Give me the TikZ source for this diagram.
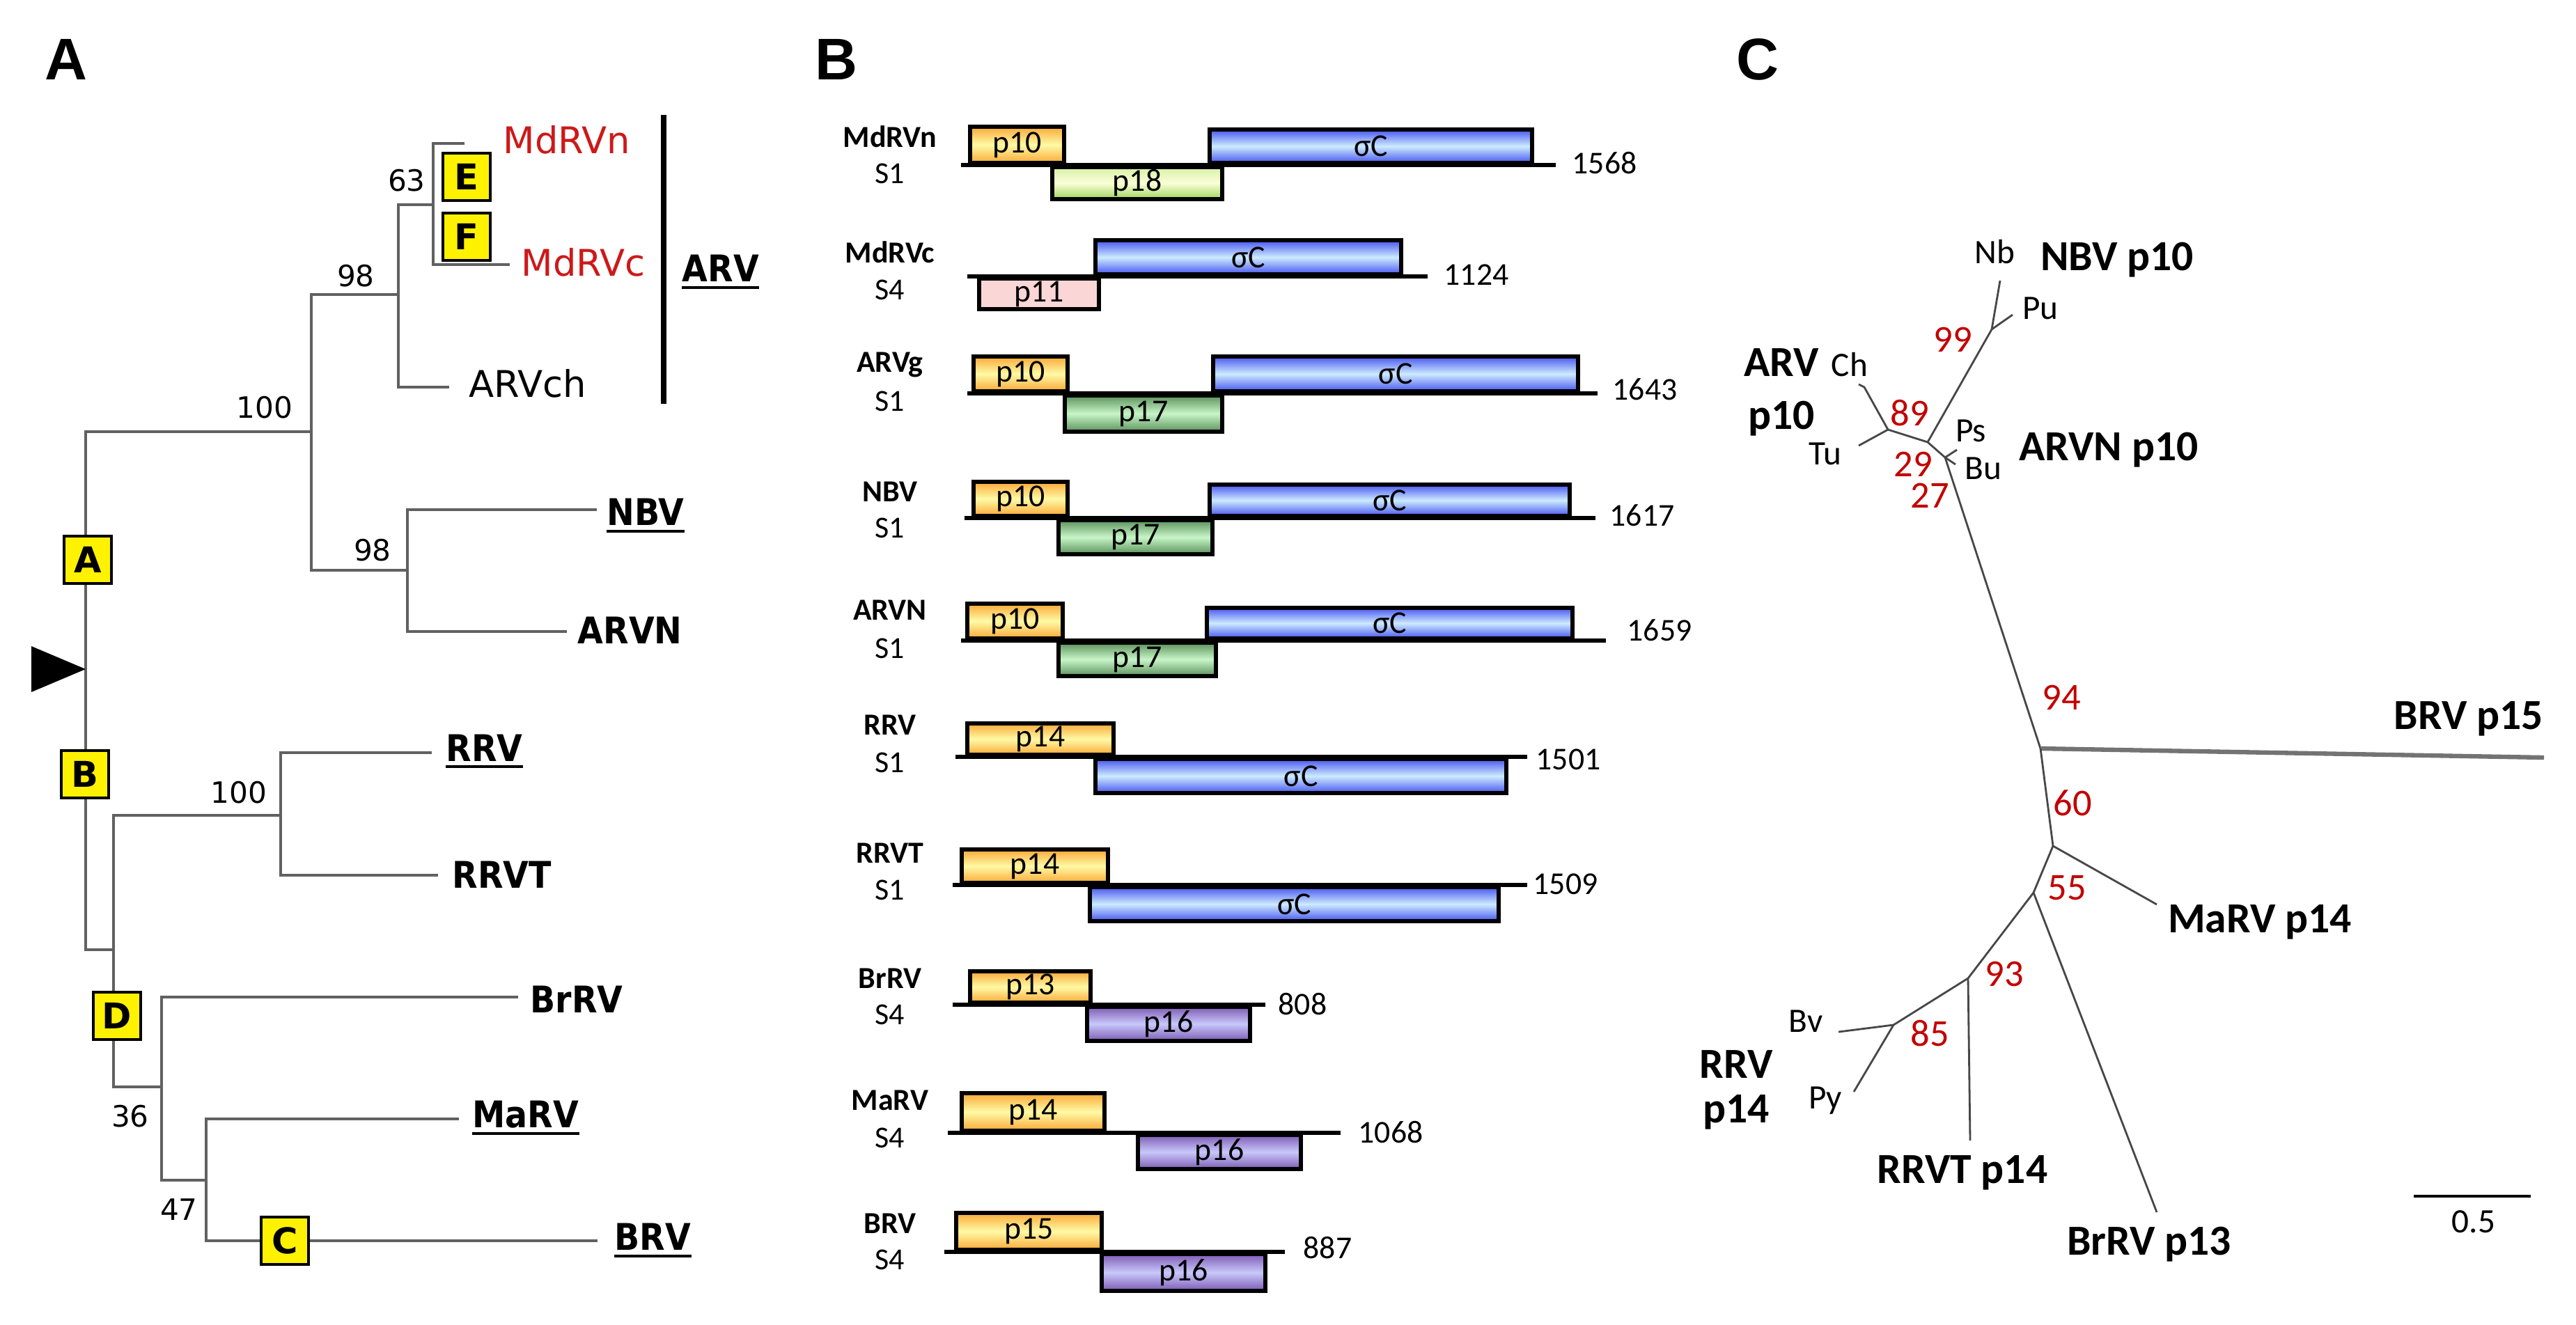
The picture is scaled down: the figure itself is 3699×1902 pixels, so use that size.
\documentclass[tikz,border=0pt]{standalone}
\usepackage{fontspec}
\setmainfont{Carlito}
\newfontfamily\dvs{DejaVu Sans}
\newfontfamily\dvsc{DejaVu Sans}[FakeStretch=0.9]
\newfontfamily\lib{Liberation Sans}
\usetikzlibrary{calc}
\newcommand\fsz[1]{\fontsize{#1}{#1}\selectfont}
\definecolor{redlab}{RGB}{205,25,25}
\definecolor{numred}{RGB}{195,0,0}
\definecolor{orT}{RGB}{250,168,55}\definecolor{orM}{RGB}{255,250,165}
\definecolor{blT}{RGB}{70,85,240}\definecolor{blM}{RGB}{205,235,255}
\definecolor{grT}{RGB}{90,145,90}\definecolor{grM}{RGB}{200,245,200}
\definecolor{ygT}{RGB}{215,240,165}\definecolor{ygM}{RGB}{250,255,215}\definecolor{ygB}{RGB}{160,212,95}
\definecolor{pkF}{RGB}{250,214,214}
\definecolor{puT}{RGB}{125,90,180}\definecolor{puM}{RGB}{200,200,250}
\tikzset{
  tree/.style={draw=black!62, line width=0.9pt},
  leafA/.style={anchor=west, inner sep=0pt, font=\dvs\fsz{15pt}},
  leafAb/.style={anchor=west, inner sep=0pt, font=\dvsc\bfseries\fsz{15pt}},
  leafAu/.style={anchor=base west, inner sep=0pt, font=\dvsc\bfseries\fsz{15pt}},
  bootA/.style={inner sep=0pt, font=\dvs\fsz{12pt}},
  ybox/.style={draw=black, line width=0.9pt, fill=yellow, minimum width=0.68cm, minimum height=0.68cm, inner sep=0pt, font=\dvs\bfseries\fsz{14.5pt}},
  panel/.style={font=\lib\bfseries\fsz{24pt}, inner sep=0pt},
  uline/.style={line width=1pt, draw=black},
  gname/.style={font=\bfseries\fsz{12.5pt}, inner sep=0pt},
  gseg/.style={font=\fsz{12.5pt}, inner sep=0pt},
  segline/.style={line width=1.85pt, draw=black},
  genebox/.style={draw=black, line width=1.7pt},
  orf/.style={top color=orT, bottom color=orT, middle color=orM},
  blf/.style={top color=blT, bottom color=blT, middle color=blM},
  grf/.style={top color=grT, bottom color=grT, middle color=grM},
  ygf/.style={top color=ygT, bottom color=ygB, middle color=ygM},
  pkf/.style={fill=pkF},
  puf/.style={top color=puT, bottom color=puT, middle color=puM},
  genetext/.style={font=\fsz{13pt}, inner sep=0pt},
  len/.style={anchor=west, font=\fsz{13pt}, inner sep=0pt},
  ctree/.style={draw=black!72, line width=0.8pt},
  cthick/.style={draw=black!55, line width=1.8pt},
  cbig/.style={font=\bfseries\fsz{17.5pt}, inner sep=0pt},
  csmall/.style={font=\fsz{14pt}, inner sep=0pt},
  cnum/.style={font=\fsz{15.5pt}, text=numred, inner sep=0pt},
}
\newcommand\genebx[7]{%
  \path[genebox,#2] ({#3+3},{#4+3}) rectangle ({#5-3},{#6-3});
  \node[genetext] (#1) at ({(#3+#5)/2},{(#4+#6)/2}) {#7};}
\begin{document}
\begin{tikzpicture}[x=0.01cm,y=-0.01cm]
\useasboundingbox[fill=white] (0,0) rectangle (3699,1902);
% ---------------- Panel A ----------------
\node[panel] (pA) at (95,85) {A};
\coordinate (R) at (123,961);
\coordinate (N100) at (447,620);
\coordinate (N98a) at (572,423);
\coordinate (N63) at (622,294);
\coordinate (N98b) at (585,819);
\coordinate (N0) at (163,1364);
\coordinate (N100b) at (403,1171);
\coordinate (N36) at (232,1561);
\coordinate (N47) at (296,1695);
\coordinate (LMdRVn) at (667,206);
\coordinate (LMdRVc) at (732,380);
\coordinate (LARVch) at (645,556);
\coordinate (LNBV) at (857,732);
\coordinate (LARVN) at (814,907);
\coordinate (LRRV) at (620,1081);
\coordinate (LRRVT) at (629,1257);
\coordinate (LBrRV) at (744,1432);
\coordinate (LMaRV) at (659,1607);
\coordinate (LBRV) at (858,1782);
\draw[tree] (R) |- (N100);
\draw[tree] (R) |- (N0);
\draw[tree] (N100) |- (N98a);
\draw[tree] (N100) |- (N98b);
\draw[tree] (N98a) |- (N63);
\draw[tree] (N98a) |- (LARVch);
\draw[tree] (N63) |- (LMdRVn);
\draw[tree] (N63) |- (LMdRVc);
\draw[tree] (N98b) |- (LNBV);
\draw[tree] (N98b) |- (LARVN);
\draw[tree] (N0) |- (N100b);
\draw[tree] (N0) |- (N36);
\draw[tree] (N100b) |- (LRRV);
\draw[tree] (N100b) |- (LRRVT);
\draw[tree] (N36) |- (LBrRV);
\draw[tree] (N36) |- (N47);
\draw[tree] (N47) |- (LMaRV);
\draw[tree] (N47) |- (LBRV);
\fill (45,928) -- (45,994) -- (R) -- cycle;
% bootstrap values
\node[bootA] (bA100) at (380,585) {100};
\node[bootA] (bA98a) at (511,396) {98};
\node[bootA] (bA63) at (584,259) {63};
\node[bootA] (bA98b) at (535,790) {98};
\node[bootA] (bA100b) at (343,1138) {100};
\node[bootA] (bA36) at (187,1603) {36};
\node[bootA] (bA47) at (257,1737) {47};
% leaf labels
\node[leafA, text=redlab] (tMdRVn) at (722,201) {MdRVn};
\node[leafA, text=redlab] (tMdRVc) at (748,377) {MdRVc};
\node[leafA] (tARVch) at (673,551) {ARVch};
\node[leafAu] (tNBV) at (871,754) {NBV};
\draw[uline] ($(tNBV.base west)+(0,9)$) -- ($(tNBV.base east)+(0,9)$);
\node[leafAb] (tARVN) at (829,905) {ARVN};
\node[leafAu] (tRRV) at (640,1093) {RRV};
\draw[uline] ($(tRRV.base west)+(0,8)$) -- ($(tRRV.base east)+(0,8)$);
\node[leafAb] (tRRVT) at (649,1256) {RRVT};
\node[leafAb] (tBrRV) at (761,1435) {BrRV};
\node[leafAu] (tMaRV) at (678,1619) {MaRV};
\draw[uline] ($(tMaRV.base west)+(0,9)$) -- ($(tMaRV.base east)+(0,9)$);
\node[leafAu] (tBRV) at (882,1795) {BRV};
\draw[uline] ($(tBRV.base west)+(0,9)$) -- ($(tBRV.base east)+(0,9)$);
% ARV bar
\coordinate (barT) at (953,165);
\coordinate (barB) at (953,580);
\draw[line width=2pt] (barT) -- (barB);
\node[leafAu] (tARV) at (979,404) {ARV};
\draw[uline] ($(tARV.base west)+(0,9)$) -- ($(tARV.base east)+(0,9)$);
% yellow boxes
\node[ybox] (bxE) at (670,254) {E};
\node[ybox] (bxF) at (670,340) {F};
\node[ybox] (bxA) at (126,804) {A};
\node[ybox] (bxB) at (122,1112) {B};
\node[ybox] (bxD) at (168,1459) {D};
\node[ybox] (bxC) at (409,1782) {C};
% ---------------- Panel B ----------------
\node[panel] (pB) at (1201,85) {B};
% row 1
\node[gname] (g1n) at (1278,196) {MdRVn};
\node[gseg] (g1s) at (1278,249) {S1};
\draw[segline] (1380,237) -- (2234,237);
\genebx{g1a}{orf}{1390}{179}{1531}{237}{p10}
\genebx{g1b}{blf}{1734}{183}{2203}{237}{σC}
\genebx{g1c}{ygf}{1508}{237}{1758}{289}{p18}
\node[len] (g1l) at (2257,234) {1568};
% row 2
\node[gname] (g2n) at (1278,362) {MdRVc};
\node[gseg] (g2s) at (1278,416) {S4};
\draw[segline] (1389,397) -- (2050,397);
\genebx{g2a}{blf}{1570}{342}{2015}{397}{σC}
\genebx{g2b}{pkf}{1403}{397}{1581}{447}{p11}
\node[len] (g2l) at (2073,395) {1124};
% row 3
\node[gname] (g3n) at (1278,524) {ARVg};
\node[gseg] (g3s) at (1278,576) {S1};
\draw[segline] (1389,565) -- (2294,565);
\genebx{g3a}{orf}{1395}{509}{1536}{565}{p10}
\genebx{g3b}{blf}{1739}{509}{2269}{565}{σC}
\genebx{g3c}{grf}{1526}{565}{1758}{623}{p17}
\node[len] (g3l) at (2315,559) {1643};
% row 4
\node[gname] (g4n) at (1278,706) {NBV};
\node[gseg] (g4s) at (1278,758) {S1};
\draw[segline] (1385,744) -- (2291,744);
\genebx{g4a}{orf}{1395}{689}{1536}{744}{p10}
\genebx{g4b}{blf}{1734}{693}{2257}{744}{σC}
\genebx{g4c}{grf}{1517}{744}{1744}{799}{p17}
\node[len] (g4l) at (2311,740) {1617};
% row 5
\node[gname] (g5n) at (1278,876) {ARVN};
\node[gseg] (g5s) at (1278,931) {S1};
\draw[segline] (1380,920) -- (2306,920);
\genebx{g5a}{orf}{1386}{864}{1529}{920}{p10}
\genebx{g5b}{blf}{1730}{870}{2261}{920}{σC}
\genebx{g5c}{grf}{1517}{920}{1749}{974}{p17}
\node[len] (g5l) at (2336,905) {1659};
% row 6
\node[gname] (g6n) at (1278,1041) {RRV};
\node[gseg] (g6s) at (1278,1095) {S1};
\draw[segline] (1372,1087) -- (2193,1087);
\genebx{g6a}{orf}{1386}{1036}{1602}{1087}{p14}
\genebx{g6b}{blf}{1570}{1087}{2166}{1142}{σC}
\node[len] (g6l) at (2205,1091) {1501};
% row 7
\node[gname] (g7n) at (1278,1225) {RRVT};
\node[gseg] (g7s) at (1278,1278) {S1};
\draw[segline] (1368,1271) -- (2193,1271);
\genebx{g7a}{orf}{1378}{1217}{1594}{1271}{p14}
\genebx{g7b}{blf}{1562}{1271}{2155}{1326}{σC}
\node[len] (g7l) at (2201,1270) {1509};
% row 8
\node[gname] (g8n) at (1278,1405) {BrRV};
\node[gseg] (g8s) at (1278,1457) {S4};
\draw[segline] (1368,1443) -- (1817,1443);
\genebx{g8a}{orf}{1390}{1392}{1569}{1443}{p13}
\genebx{g8b}{puf}{1558}{1443}{1798}{1498}{p16}
\node[len] (g8l) at (1835,1442) {808};
% row 9
\node[gname] (g9n) at (1278,1580) {MaRV};
\node[gseg] (g9s) at (1278,1634) {S4};
\draw[segline] (1361,1627) -- (1925,1627);
\genebx{g9a}{orf}{1378}{1567}{1589}{1627}{p14}
\genebx{g9b}{puf}{1631}{1627}{1871}{1682}{p16}
\node[len] (g9l) at (1950,1626) {1068};
% row 10
\node[gname] (g10n) at (1278,1757) {BRV};
\node[gseg] (g10s) at (1278,1809) {S4};
\draw[segline] (1356,1798) -- (1845,1798);
\genebx{g10a}{orf}{1370}{1739}{1585}{1798}{p15}
\genebx{g10b}{puf}{1579}{1798}{1820}{1857}{p16}
\node[len] (g10l) at (1871,1792) {887};
% ---------------- Panel C ----------------
\node[panel] (pC) at (2524,85) {C};
\coordinate (c99) at (2860,473);
\coordinate (cNb) at (2872,403);
\coordinate (cPu) at (2890,452);
\coordinate (c29) at (2768,635);
\coordinate (c89) at (2711,617);
\coordinate (cCh) at (2677,556);
\coordinate (cChh) at (2669,552);
\coordinate (cTu) at (2669,640);
\coordinate (c27) at (2793,657);
\coordinate (cPs) at (2810,646);
\coordinate (cBu) at (2808,667);
\coordinate (c94) at (2930,1075);
\coordinate (cBRV) at (3653,1088);
\coordinate (c60) at (2948,1215);
\coordinate (cMaRV) at (3097,1299);
\coordinate (c55) at (2920,1282);
\coordinate (cBrRV) at (3097,1741);
\coordinate (c93) at (2826,1405);
\coordinate (cRRVT) at (2829,1638);
\coordinate (c85) at (2719,1472);
\coordinate (cBv) at (2640,1482);
\coordinate (cPy) at (2662,1568);
\draw[ctree] (c99) -- (cNb);
\draw[ctree] (c99) -- (cPu);
\draw[ctree] (c29) -- (c99);
\draw[ctree] (c29) -- (c89);
\draw[ctree] (c89) -- (cCh) -- (cChh);
\draw[ctree] (c89) -- (cTu);
\draw[ctree] (c29) -- (c27);
\draw[ctree] (c27) -- (cPs);
\draw[ctree] (c27) -- (cBu);
\draw[ctree] (c27) -- (c94);
\draw[cthick] (c94) -- (cBRV);
\draw[ctree] (c94) -- (c60);
\draw[ctree] (c60) -- (cMaRV);
\draw[ctree] (c60) -- (c55);
\draw[ctree] (c55) -- (cBrRV);
\draw[ctree] (c55) -- (c93);
\draw[ctree] (c93) -- (cRRVT);
\draw[ctree] (c93) -- (c85);
\draw[ctree] (c85) -- (cBv);
\draw[ctree] (c85) -- (cPy);
% labels
\node[csmall] (lNb) at (2864,362) {Nb};
\node[cbig] (lNBV) at (3040,373) {NBV p10};
\node[csmall] (lPu) at (2930,443) {Pu};
\node[cnum] (n99) at (2804,488) {99};
\node[cbig] (lARV1) at (2558,521) {ARV};
\node[cbig] (lARV2) at (2558,601) {p10};
\node[csmall] (lCh) at (2656,524) {Ch};
\node[cnum] (n89) at (2742,593) {89};
\node[csmall] (lTu) at (2621,652) {Tu};
\node[csmall] (lPs) at (2830,619) {Ps};
\node[csmall] (lBu) at (2848,673) {Bu};
\node[cbig] (lARVN) at (3028,646) {ARVN p10};
\node[cnum] (n29) at (2747,667) {29};
\node[cnum] (n27) at (2771,712) {27};
\node[cnum] (n94) at (2960,1002) {94};
\node[cbig] (lBRV) at (3545,1032) {BRV p15};
\node[cnum] (n60) at (2976,1153) {60};
\node[cnum] (n55) at (2968,1275) {55};
\node[cbig] (lMaRV) at (3245,1324) {MaRV p14};
\node[cnum] (n93) at (2878,1399) {93};
\node[cnum] (n85) at (2771,1484) {85};
\node[csmall] (lBv) at (2593,1467) {Bv};
\node[csmall] (lPy) at (2621,1581) {Py};
\node[cbig] (lRRV1) at (2493,1529) {RRV};
\node[cbig] (lRRV2) at (2493,1597) {p14};
\node[cbig] (lRRVT) at (2818,1684) {RRVT p14};
\node[cbig] (lBrRV) at (3086,1787) {BrRV p13};
\coordinate (sbL) at (3466,1718);
\coordinate (sbR) at (3634,1718);
\draw[line width=1pt] (sbL) -- (sbR);
\node[csmall] (lsb) at (3552,1755) {0.5};
\end{tikzpicture}
\end{document}
